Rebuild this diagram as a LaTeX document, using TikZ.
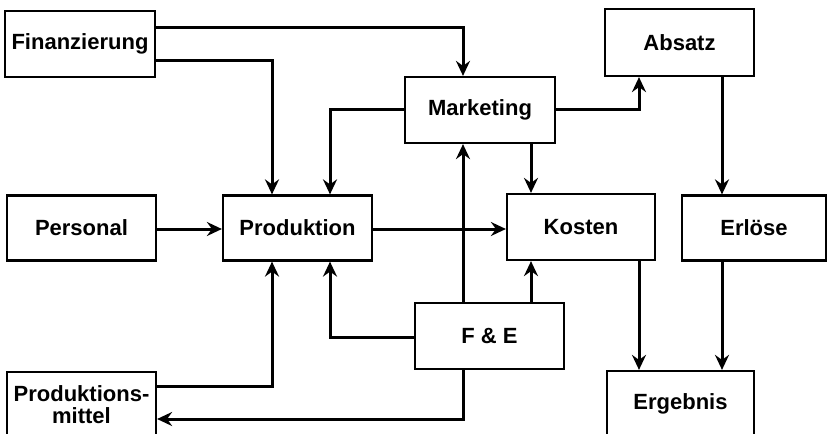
\documentclass[tikz,border=0pt]{standalone}
\usepackage{fontspec}
\setmainfont{Liberation Sans}
\usetikzlibrary{arrows.meta}
\begin{document}
\begin{tikzpicture}[x=1pt,y=-1pt,
  box/.style={draw,line width=2.2pt,rectangle,inner sep=0pt,
    font=\fontsize{22}{24}\selectfont\bfseries,align=center},
  link/.style={line width=3pt},
  arr/.style={link,-{Stealth[length=15pt,width=14pt,inset=5pt]}}]
\clip (0,0) rectangle (828,434);
\fill[white] (0,0) rectangle (828,434);
% boxes
\node[box,minimum width=150pt,minimum height=66pt] (fin)  at (80,44)     {Finanzierung};
\node[box,minimum width=150pt,minimum height=66pt] (mkt)  at (480,110)   {Marketing};
\node[box,minimum width=149pt,minimum height=67pt] (abs)  at (679.5,42.5) {Absatz};
\node[box,minimum width=149pt,minimum height=65pt] (pers) at (81.5,228)  {Personal};
\node[box,minimum width=149pt,minimum height=65pt] (prod) at (297.5,228) {Produktion};
\node[box,minimum width=148pt,minimum height=66pt] (kost) at (581,227)   {Kosten};
\node[box,minimum width=144pt,minimum height=65pt] (erl)  at (754,228)   {Erlöse};
\node[box,minimum width=149pt,minimum height=66pt] (fe)   at (489.5,336) {F \& E};
\node[box,minimum width=149pt,minimum height=66pt] (pm)   at (81.5,405)  {Produktions-\\[-2pt]mittel};
\node[box,minimum width=147pt,minimum height=66pt] (erg)  at (680.5,404) {Ergebnis};
% connectors
\draw[arr] (fin.east |- 0,27) -| (mkt.north -| 463,0);
\draw[arr] (fin.east |- 0,60) -| (prod.north -| 272,0);
\draw[arr] (mkt.west |- 0,109) -| (prod.north -| 330,0);
\draw[arr] (mkt.east |- 0,109) -| (abs.south -| 639,0);
\draw[arr] (mkt.south -| 531,0) -- (kost.north -| 531,0);
\draw[arr] (pers.east |- 0,229) -- (prod.west |- 0,229);
\draw[arr] (prod.east |- 0,229) -- (kost.west |- 0,229);
\draw[arr] (abs.south -| 722,0) -- (erl.north -| 722,0);
\draw[arr] (fe.north -| 463,0) -- (mkt.south -| 463,0);
\draw[arr] (fe.north -| 531,0) -- (kost.south -| 531,0);
\draw[arr] (fe.west |- 0,337) -| (prod.south -| 330,0);
\draw[arr] (fe.south -| 463,0) |- (pm.east |- 0,419);
\draw[arr] (pm.east |- 0,386) -| (prod.south -| 272,0);
\draw[arr] (kost.south -| 639,0) -- (erg.north -| 639,0);
\draw[arr] (erl.south -| 722,0) -- (erg.north -| 722,0);
\end{tikzpicture}
\end{document}
